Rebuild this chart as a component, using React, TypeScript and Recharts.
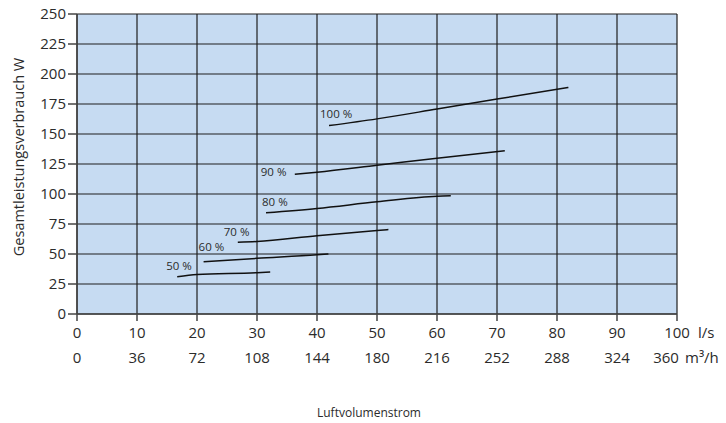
import { LineChart, Line, XAxis, YAxis, CartesianGrid, LabelList, Label } from 'recharts';

// axis ticks
const lsTicks = [0, 10, 20, 30, 40, 50, 60, 70, 80, 90, 100];
const m3hTicks = [0, 36, 72, 108, 144, 180, 216, 252, 288, 324, 360];
const wattTicks = [0, 25, 50, 75, 100, 125, 150, 175, 200, 225, 250];

// fan curves: x = l/s, y = W
const curve100 = [
  { x: 42, y: 157 },
  { x: 50, y: 162.6 },
  { x: 60, y: 170.8 },
  { x: 70, y: 179.1 },
  { x: 81.9, y: 188.8 },
];
const curve90 = [
  { x: 36.3, y: 116.4 },
  { x: 40, y: 118.1 },
  { x: 50, y: 123.9 },
  { x: 60, y: 129.8 },
  { x: 71.3, y: 136.1 },
];
const curve80 = [
  { x: 31.5, y: 84.3 },
  { x: 40, y: 88 },
  { x: 50, y: 93.5 },
  { x: 60, y: 98.2 },
  { x: 62.3, y: 98.5 },
];
const curve70 = [
  { x: 26.8, y: 59.8 },
  { x: 30, y: 60.4 },
  { x: 40, y: 65.3 },
  { x: 50, y: 69.5 },
  { x: 51.9, y: 70.4 },
];
const curve60 = [
  { x: 21.1, y: 43.6 },
  { x: 30, y: 46.4 },
  { x: 40, y: 49.3 },
  { x: 41.9, y: 50 },
];
const curve50 = [
  { x: 16.7, y: 31.1 },
  { x: 20, y: 33 },
  { x: 30, y: 34.4 },
  { x: 32.2, y: 35 },
];

const curveNames = ['100 %', '90 %', '80 %', '70 %', '60 %', '50 %'];
const curves = [curve100, curve90, curve80, curve70, curve60, curve50];

// where each curve's label sits relative to its first point
const labelShift: Record<string, [number, number]> = {
  '100 %': [-9, -8],
  '90 %': [-34, 2],
  '80 %': [-4, -7],
  '70 %': [-14, -6],
  '60 %': [-5, -11],
  '50 %': [-11, -7],
};

const FONT = '"Open Sans", sans-serif';
const TEXT = '#2b2b2b';

const XTick = (props: any) => {
  const { x, y, payload, index } = props;
  const last = index === lsTicks.length - 1;
  return (
    <g fontFamily={FONT} fontSize={15} fill={TEXT}>
      <text x={x} y={y + 15} textAnchor="middle">{payload.value}</text>
      <text x={last ? x - 11 : x} y={y + 40} textAnchor="middle">{m3hTicks[index]}</text>
      {last && (
        <>
          <text x={x + 21} y={y + 15}>l/s</text>
          <text x={x + 8} y={y + 40}>m³/h</text>
        </>
      )}
    </g>
  );
};

const curveLabel = (name: string) => (props: any) => {
  const { x, y, index } = props;
  if (index !== 0) return null;
  const [dx, dy] = labelShift[name];
  return (
    <text x={x + dx} y={y + dy} fontFamily={FONT} fontSize={11.5} fill={TEXT}>
      {name}
    </text>
  );
};

export default function App() {
  return (
    <div style={{ position: 'absolute', left: 0, top: 0 }}>
      <LineChart width={726} height={423} margin={{ top: 14, right: 49, left: 17, bottom: 50 }}>
        <CartesianGrid fill="#c6dbf2" stroke="#1e1e1e" strokeWidth={1.2} />
        <XAxis
          dataKey="x"
          type="number"
          domain={[0, 100]}
          ticks={lsTicks}
          allowDuplicatedCategory={false}
          height={59}
          tickSize={7}
          stroke="#444"
          strokeWidth={1.5}
          tick={<XTick />}
        >
          <Label
            content={() => (
              <text x={369} y={417} textAnchor="middle" fontFamily={FONT} fontSize={12} fill={TEXT}>
                Luftvolumenstrom
              </text>
            )}
          />
        </XAxis>
        <YAxis
          type="number"
          domain={[0, 250]}
          ticks={wattTicks}
          width={60}
          tickSize={9}
          stroke="#444"
          strokeWidth={1.5}
          tick={{ fill: TEXT, fontSize: 15, fontFamily: FONT }}
        >
          <Label
            content={() => (
              <text
                x={18}
                y={157}
                transform="rotate(-90 18 157)"
                textAnchor="middle"
                dominantBaseline="central"
                fontFamily={FONT}
                fontSize={14.5}
                fill={TEXT}
              >
                Gesamtleistungsverbrauch W
              </text>
            )}
          />
        </YAxis>
        {curves.map((data, i) => (
          <Line
            key={curveNames[i]}
            data={data}
            dataKey="y"
            type="monotone"
            stroke="#111"
            strokeWidth={1.5}
            dot={false}
            activeDot={false}
            isAnimationActive={false}
          >
            <LabelList dataKey="y" content={curveLabel(curveNames[i])} />
          </Line>
        ))}
      </LineChart>
    </div>
  );
}
